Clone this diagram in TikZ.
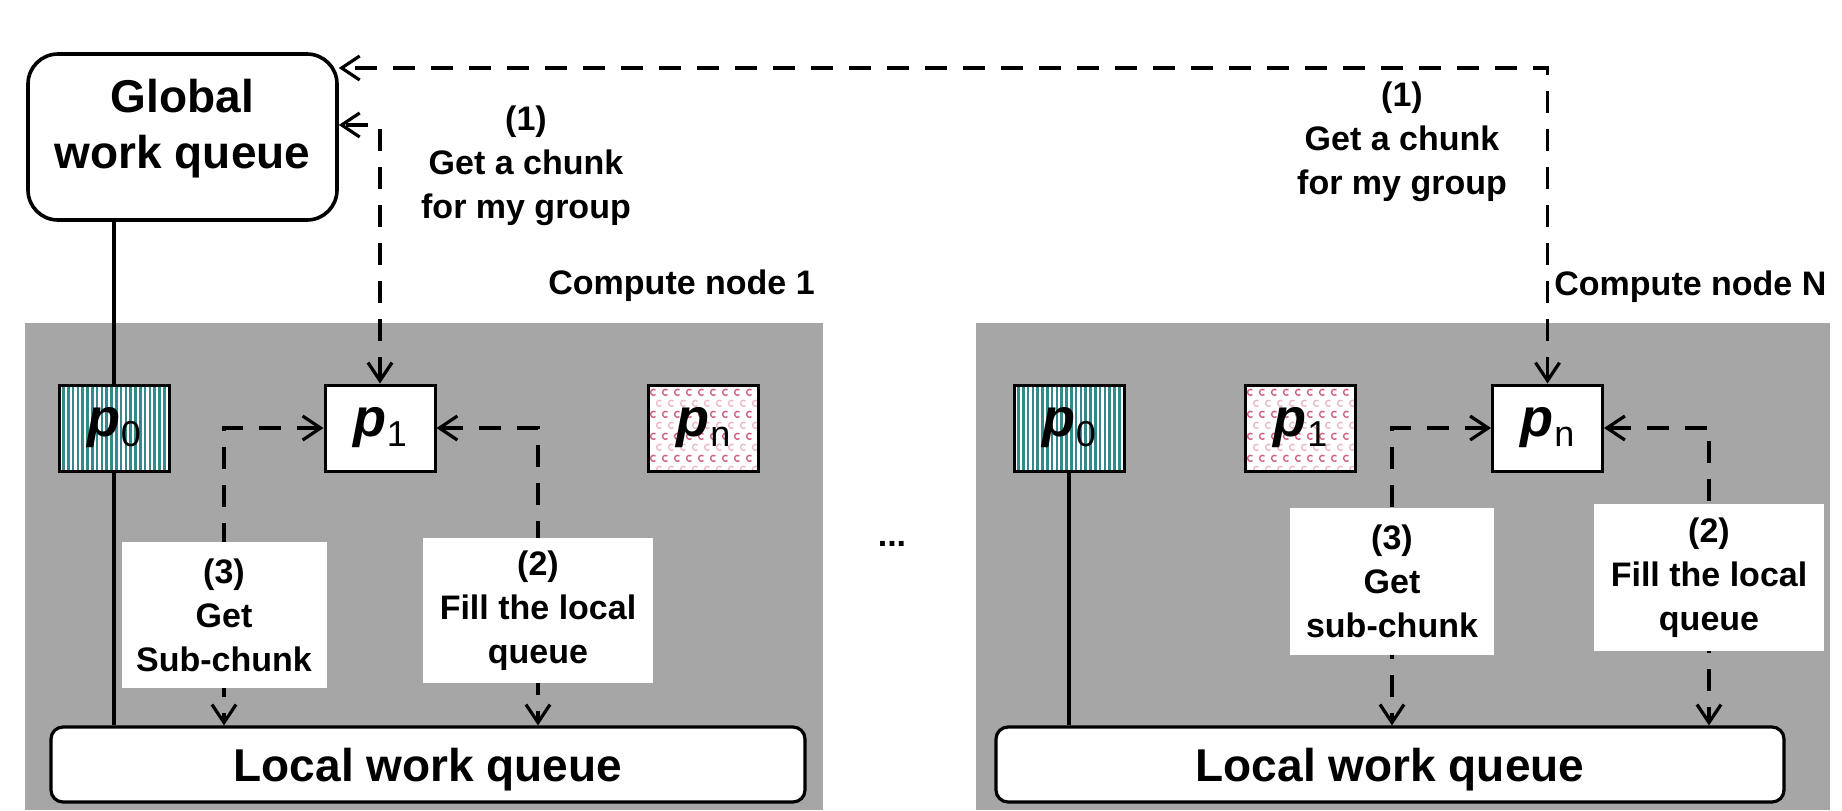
\documentclass[tikz,border=0pt]{standalone}
\usepackage{fontspec}
\setmainfont{Liberation Sans}
\usetikzlibrary{arrows.meta}
\pgfdeclarelayer{back}
\pgfdeclarelayer{mid}
\pgfsetlayers{back,mid,main}
\definecolor{nodegray}{RGB}{166,166,166}
\definecolor{stripeteal}{RGB}{52,138,138}
\definecolor{dotpink}{RGB}{196,58,98}

% process label: bold italic p with an upright subscript
\newcommand{\procname}[1]{{\fontsize{27}{27}\selectfont\bfseries\itshape p}\kern0.3pt{\fontsize{18}{18}\selectfont\mdseries\upshape\raisebox{-5pt}{#1}}}

\begin{document}
\begin{tikzpicture}[x=0.5pt,y=-0.5pt,
  >={Straight Barb[length=9pt,width=12pt]},
  every node/.style={font=\bfseries\fontsize{17}{22}\selectfont},
  groupbox/.style={fill=nodegray, inner sep=0pt, minimum height=243.5pt},
  gbox/.style={draw, line width=1.8pt, rounded corners=15pt, fill=white,
    minimum width=154.5pt, minimum height=83pt, inner sep=0pt},
  lqueue/.style={draw, line width=1.6pt, rounded corners=6pt, fill=white,
    inner sep=0pt, minimum height=37.5pt, text depth=0pt,
    font=\bfseries\fontsize{23}{27}\selectfont},
  proc/.style={draw, line width=1.5pt, fill=white, inner sep=0pt,
    minimum width=55pt, minimum height=43pt},
  stripes/.style={proc, fill=stripeteal, path picture={
    \foreach \k in {0,...,23}
      \draw[white, line width=1.1pt]
        ([xshift=\k*2.4pt+1pt]path picture bounding box.south west) --
        ([xshift=\k*2.4pt+1pt]path picture bounding box.north west);}},
  dots/.style={proc, path picture={
    \foreach \r in {0,...,8}{
      \foreach \c in {0,...,9}{
        \pgfmathsetmacro\mx{6*\c+3.5+3*mod(\r,2)}
        \pgfmathsetmacro\my{5.5*\r+2.5}
        \pgfmathsetmacro\op{ifthenelse(mod(\r,2)==0,0.8,0.35)}
        \draw[dotpink, opacity=\op, line width=0.7pt]
          ([xshift=\mx pt, yshift=-\my pt]path picture bounding box.north west)
          arc[start angle=50, end angle=310, radius=1.5pt];
      }
    }}},
  tag/.style={fill=white, inner sep=0pt, align=center},
  note/.style={inner sep=0pt, align=center},
  flow/.style={line width=1.6pt, dash pattern=on 11pt off 8pt},
  solidline/.style={line width=1.6pt}
]
\useasboundingbox (0,0) rectangle (1842,810);

\begin{pgfonlayer}{back}
  \fill[white] (0,0) rectangle (1842,810);
  \node[groupbox, minimum width=399pt] (group1) at (424,566.5) {};
  \node[groupbox, minimum width=427pt] (groupN) at (1403,566.5) {};
\end{pgfonlayer}

% global queue
\node[gbox] (global) at (182.5,137) {};
\node[note, font=\bfseries\fontsize{23}{28}\selectfont] (globaltext) at (182.5,129) {Global\\work queue};

% step (1) labels and group titles
\node[note] (get1L) at (526,166) {(1)\\Get a chunk\\for my group};
\node[note] (get1R) at (1402,141.5) {(1)\\Get a chunk\\for my group};
\node[note, anchor=base west] (cn1) at (548,294) {Compute node 1};
\node[note, anchor=base west] (cnN) at (1554,295) {Compute node N};

% processes
\node[stripes] (p0L) at (114,428) {\procname{0}};
\node[proc] (p1L) at (380,428) {\procname{1}};
\node[dots] (pnL) at (703.5,428) {\procname{n}};
\node[stripes] (p0R) at (1069,428) {\procname{0}};
\node[dots] (p1R) at (1300.5,428) {\procname{1}};
\node[proc] (pnR) at (1547.5,428) {\procname{n}};

% local queues
\node[lqueue, minimum width=377pt] (lqL) at (428,764.5) {Local work queue};
\node[lqueue, minimum width=394pt] (lqR) at (1390,764.5) {Local work queue};

% step (2)/(3) labels
\node[tag, minimum width=102.5pt, minimum height=73pt] (s3L) at (224,615) {(3)\\Get\\Sub-chunk};
\node[tag, minimum width=115pt, minimum height=72.5pt] (s2L) at (538,610.5) {(2)\\Fill the local\\queue};
\node[tag, minimum width=102pt, minimum height=73.5pt] (s3R) at (1392,581.5) {(3)\\Get\\sub-chunk};
\node[tag, minimum width=115pt, minimum height=73.5pt] (s2R) at (1709,577.5) {(2)\\Fill the local\\queue};

\node[note] (ellipsis) at (892,544) {...};

% connectors
\begin{pgfonlayer}{mid}
  \draw[flow,<->] (pnR.north) |- ([yshift=34.5pt]global.east);
  \draw[flow,<->] (p1L.north) |- ([yshift=6pt]global.east);
  \draw[flow,<->] (p1L.west) -| (s3L.center |- lqL.north);
  \draw[flow,<->] (p1L.east) -| (s2L.center |- lqL.north);
  \draw[flow,<->] (pnR.west) -| (s3R.center |- lqR.north);
  \draw[flow,<->] (pnR.east) -| (s2R.center |- lqR.north);
  \draw[solidline] (p0L.center |- global.south) -- (p0L.center |- lqL.north);
  \draw[solidline] (p0R.south) -- (p0R.south |- lqR.north);
\end{pgfonlayer}
\end{tikzpicture}
\end{document}
